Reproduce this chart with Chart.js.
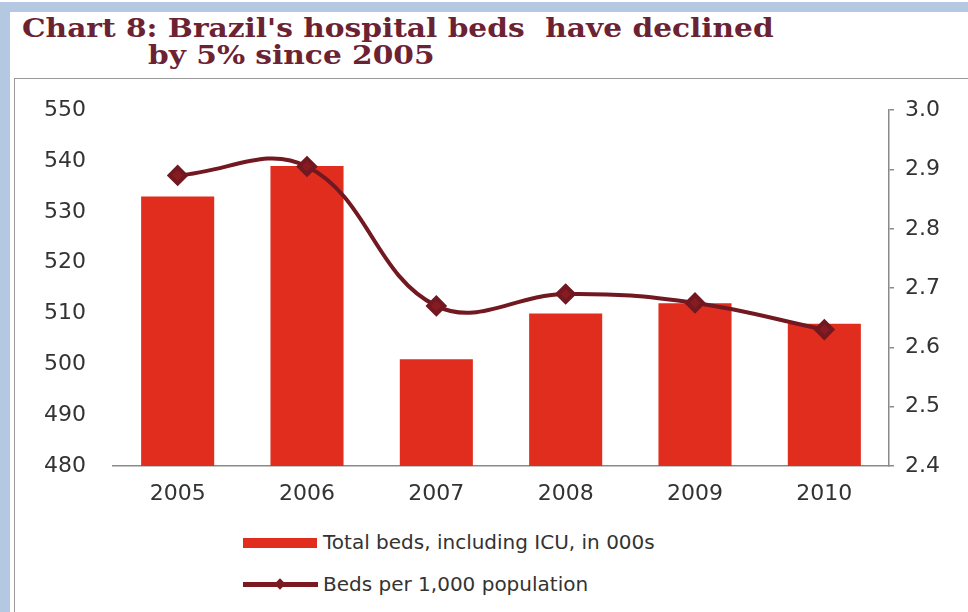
<!DOCTYPE html>
<html>
<head>
<meta charset="utf-8">
<script src="https://cdn.jsdelivr.net/npm/chart.js@4.4.1/dist/chart.umd.min.js"></script>
<style>
  html, body { margin: 0; padding: 0; }
  body { width: 968px; height: 612px; position: relative; overflow: hidden; background: #fff; }
  .band-top { position: absolute; left: 0; top: 2px; width: 968px; height: 10px; background: #b5c8e1; }
  .band-left { position: absolute; left: 0; top: 2px; width: 10px; height: 610px; background: #b5c8e1; }
  .box { position: absolute; left: 14px; top: 78px; width: 970px; height: 560px; border: 1px solid #9a9a9a; box-sizing: border-box; }
  .title { position: absolute; font-family: "DejaVu Serif", serif; font-weight: bold; font-size: 26px; color: #6b2232; white-space: pre; transform: scaleX(1.14); transform-origin: 0 0; }
  #wrap { position: absolute; left: 14px; top: 78px; width: 954px; height: 440px; }
  .leg { position: absolute; font-family: "DejaVu Sans", sans-serif; font-size: 20px; color: #333; white-space: nowrap; }
</style>
</head>
<body>
<div class="band-top"></div>
<div class="band-left"></div>
<div class="box"></div>
<div class="title" style="left:22px; top:13px;">Chart 8: Brazil's hospital beds  have declined</div>
<div class="title" style="left:148px; top:40px;">by 5% since 2005</div>
<div id="wrap"><canvas id="c"></canvas></div>

<div style="position:absolute; left:243px; top:538px; width:74px; height:10px; background:#e02d1e;"></div>
<div class="leg" style="left:323px; top:530px;">Total beds, including ICU, in 000s</div>
<div style="position:absolute; left:243px; top:582px; width:75px; height:5px; background:#7a1a20;"></div>
<div style="position:absolute; left:276px; top:580px; width:8px; height:8px; background:#7a1a20; transform:rotate(45deg);"></div>
<div class="leg" style="left:323px; top:572px;">Beds per 1,000 population</div>

<script>
const years = ["2005", "2006", "2007", "2008", "2009", "2010"];
const totalBeds = [533, 539, 501, 510, 512, 508];
const bedsPerThousand = [2.89, 2.905, 2.67, 2.69, 2.675, 2.63];

const tickFont = { family: "DejaVu Sans", size: 22 };

new Chart(document.getElementById("c"), {
  data: {
    labels: years,
    datasets: [
      {
        type: "line",
        label: "Beds per 1,000 population",
        data: bedsPerThousand,
        yAxisID: "y2",
        borderColor: "#721820",
        backgroundColor: "#721820",
        borderWidth: 4,
        tension: 0.4,
        pointStyle: "rectRot",
        pointRadius: 8,
        pointBackgroundColor: "#861b22",
        pointBorderColor: "#721820",
        order: 0,
      },
      {
        type: "bar",
        label: "Total beds, including ICU, in 000s",
        data: totalBeds,
        yAxisID: "y",
        backgroundColor: "#e02d1e",
        categoryPercentage: 1,
        barPercentage: 0.565,
        order: 1,
      },
    ],
  },
  options: {
    responsive: true,
    maintainAspectRatio: false,
    animation: false,
    layout: { padding: { top: 25, left: 0, right: 0, bottom: 0 } },
    plugins: { legend: { display: false }, tooltip: { enabled: false } },
    scales: {
      x: {
        grid: { display: false },
        border: { display: true, color: "#8a8a8a", width: 1.5 },
        ticks: { color: "#333", font: tickFont, padding: 7 },
        afterFit: (s) => { s.height = 52; },
      },
      y: {
        position: "left",
        min: 480,
        max: 550,
        grid: { display: false },
        border: { display: false },
        ticks: { stepSize: 10, color: "#333", font: tickFont, padding: 19 },
        afterFit: (s) => { s.width = 99; },
      },
      y2: {
        position: "right",
        min: 2.4,
        max: 3.0,
        grid: { drawOnChartArea: false, tickLength: 5, color: "#8a8a8a", lineWidth: 1.5 },
        border: { display: true, color: "#8a8a8a", width: 1.5 },
        ticks: { stepSize: 0.1, color: "#333", font: tickFont, padding: 11, callback: (v) => v.toFixed(1) },
        afterFit: (s) => { s.width = 79; },
      },
    },
  },
});
</script>
</body>
</html>
